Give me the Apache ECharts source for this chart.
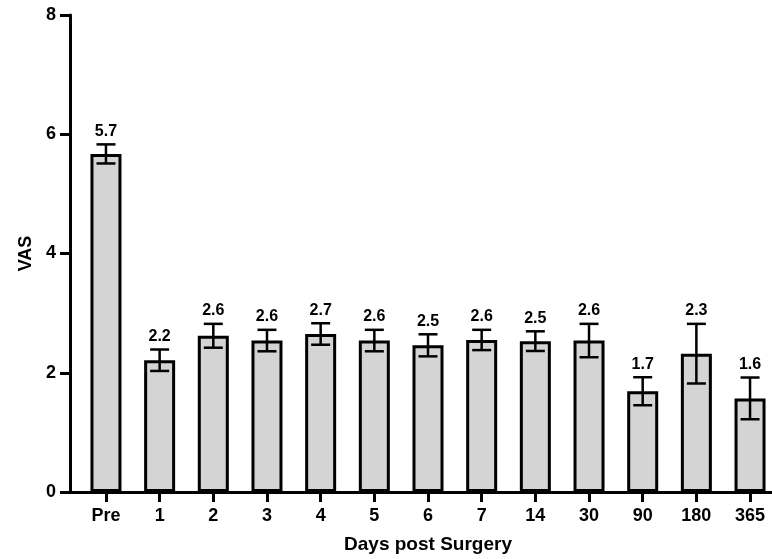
<!DOCTYPE html>
<html>
<head>
<meta charset="utf-8">
<script src="https://cdn.jsdelivr.net/npm/echarts@6/dist/echarts.min.js"></script>
<style>
html,body{margin:0;padding:0;background:#fff;}
#chart{width:772px;height:559px;}
</style>
</head>
<body>
<div id="chart"></div>
<script>
const categories = ['Pre', '1', '2', '3', '4', '5', '6', '7', '14', '30', '90', '180', '365'];
const means = [5.67, 2.21, 2.62, 2.54, 2.65, 2.54, 2.46, 2.55, 2.53, 2.54, 1.69, 2.32, 1.57];
const errors = [0.16, 0.18, 0.20, 0.18, 0.18, 0.18, 0.185, 0.17, 0.165, 0.28, 0.235, 0.50, 0.35];
const valueLabels = ['5.7', '2.2', '2.6', '2.6', '2.7', '2.6', '2.5', '2.6', '2.5', '2.6', '1.7', '2.3', '1.6'];
const yTicks = [0, 2, 4, 6, 8];

const FONT = '"Liberation Sans", Arial, Helvetica, sans-serif';
const idx = categories.map((c, i) => i);
const barData = idx.map(i => [i, means[i]]);
const errData = idx.map(i => [i, means[i], errors[i]]);

const chart = echarts.init(document.getElementById('chart'), null, {renderer: 'canvas'});
chart.setOption({
  animation: false,
  backgroundColor: '#fff',
  grid: {left: 70, right: -14, top: 15, bottom: 67, outerBoundsMode: 'none', containLabel: false},
  xAxis: {
    type: 'value',
    min: -0.67,
    max: 12.67,
    name: 'Days post Surgery',
    nameLocation: 'middle',
    nameGap: 43,
    nameTextStyle: {fontFamily: FONT, fontWeight: 'bold', fontSize: 19, color: '#000'},
    axisLine: {show: true, onZero: false, lineStyle: {color: '#000', width: 3}},
    axisTick: {show: true, length: 10, inside: false, customValues: idx, lineStyle: {color: '#000', width: 3}},
    axisLabel: {
      customValues: idx,
      margin: 15,
      fontFamily: FONT, fontWeight: 'bold', fontSize: 18, color: '#000',
      formatter: v => categories[Math.round(v)]
    },
    splitLine: {show: false}
  },
  yAxis: {
    type: 'value',
    min: 0,
    max: 8,
    interval: 2,
    name: 'VAS',
    nameLocation: 'middle',
    nameGap: 34,
    nameRotate: 90,
    nameTextStyle: {fontFamily: FONT, fontWeight: 'bold', fontSize: 18, color: '#000'},
    axisLine: {show: true, onZero: false, lineStyle: {color: '#000', width: 3}},
    axisTick: {show: true, length: 10, inside: false, lineStyle: {color: '#000', width: 3}},
    axisLabel: {margin: 14, fontFamily: FONT, fontWeight: 'bold', fontSize: 18, color: '#000'},
    splitLine: {show: false}
  },
  series: [
    {
      type: 'bar',
      data: barData,
      barWidth: 31,
      itemStyle: {color: '#d4d4d4', borderColor: '#000', borderWidth: 3},
      z: 2
    },
    {
      type: 'custom',
      data: errData,
      encode: {x: 0, y: 1},
      z: 5,
      renderItem: function (params, api) {
        const i = api.value(0), m = api.value(1), e = api.value(2);
        const top = api.coord([i, m + e]);
        const bot = api.coord([i, m - e]);
        const half = 9.5;
        const ls = {stroke: '#000', lineWidth: 2.5};
        return {
          type: 'group',
          children: [
            {type: 'line', shape: {x1: top[0], y1: top[1], x2: bot[0], y2: bot[1]}, style: ls},
            {type: 'line', shape: {x1: top[0] - half, y1: top[1], x2: top[0] + half, y2: top[1]}, style: ls},
            {type: 'line', shape: {x1: bot[0] - half, y1: bot[1], x2: bot[0] + half, y2: bot[1]}, style: ls},
            {type: 'text', style: {
              text: valueLabels[params.dataIndex],
              x: top[0], y: top[1] - 5,
              align: 'center', verticalAlign: 'bottom',
              fontFamily: FONT, fontWeight: 'bold', fontSize: 16, fill: '#000'
            }}
          ]
        };
      }
    }
  ]
});
</script>
</body>
</html>
